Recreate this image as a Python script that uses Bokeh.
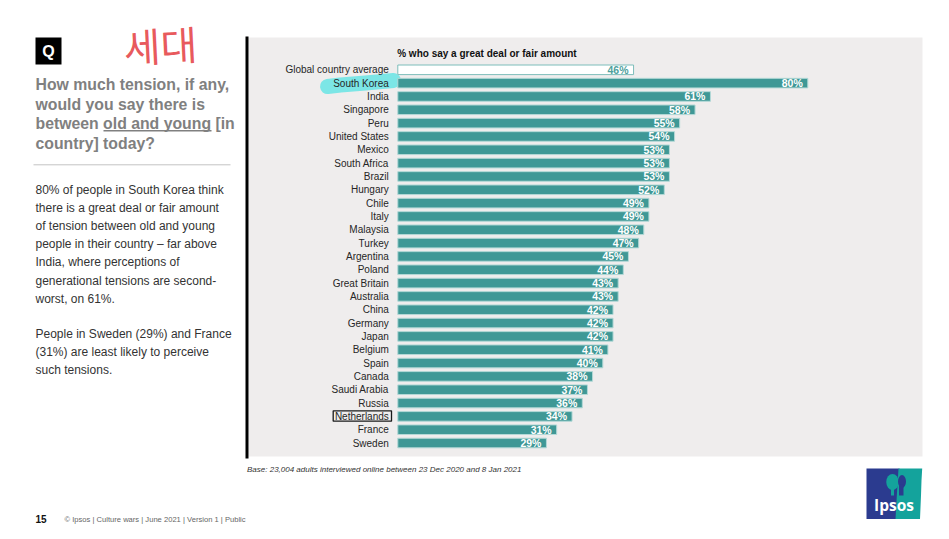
from bokeh.plotting import figure
from bokeh.models import Range1d, ColumnDataSource
from bokeh.core.properties import value
from bokeh.embed import file_html
from bokeh.resources import INLINE

# ---------------- data ----------------
global_label = "Global country average"
global_value = 46
countries = ["South Korea", "India", "Singapore", "Peru", "United States", "Mexico",
             "South Africa", "Brazil", "Hungary", "Chile", "Italy", "Malaysia", "Turkey",
             "Argentina", "Poland", "Great Britain", "Australia", "China", "Germany",
             "Japan", "Belgium", "Spain", "Canada", "Saudi Arabia", "Russia",
             "Netherlands", "France", "Sweden"]
values = [80, 61, 58, 55, 54, 53, 53, 53, 52, 49, 49, 48, 47, 45, 44, 43, 43, 42, 42,
          42, 41, 40, 38, 37, 36, 34, 31, 29]
chart_title = "% who say a great deal or fair amount"
question_lines = ["How much tension, if any,", "would you say there is",
                  "between old and young [in", "country] today?"]
body_lines_1 = ["80% of people in South Korea think", "there is a great deal or fair amount",
                "of tension between old and young", "people in their country \u2013 far above",
                "India, where perceptions of", "generational tensions are second-",
                "worst, on 61%."]
body_lines_2 = ["People in Sweden (29%) and France", "(31%) are least likely to perceive",
                "such tensions."]
base_note = "Base: 23,004 adults interviewed online between 23 Dec 2020 and 8 Jan 2021"
footer = "\u00a9 Ipsos | Culture wars | June 2021 | Version 1 | Public"
page_no = "15"
handwriting = "\uc138\ub300"

# ---------------- layout (page pixel space) ----------------
W, H = 933, 527
X0, Y0 = 0, 0
FONT = value("Liberation Sans")
TEAL = "#3f9896"

p = figure(width=W, height=H, output_backend="svg", toolbar_location=None,
           x_range=Range1d(X0, X0 + W), y_range=Range1d(Y0 + H, Y0),
           min_border=0, outline_line_color=None,
           x_axis_location=None, y_axis_location=None,
           background_fill_color="white", border_fill_color="white")
p.grid.visible = False

# bar chart scales: 0% at px 397.3, 5.125 px per percent; row 0 at px 69.3, 13.33 px per row
PX0, PXPER = 397.3, 5.125
RY0, RYH = 69.3, 13.33
p.extra_x_ranges = {"pct": Range1d((X0 - PX0) / PXPER, (X0 + W - PX0) / PXPER)}
p.extra_y_ranges = {"row": Range1d((Y0 + H - RY0) / RYH, (Y0 - RY0) / RYH)}

# chart panel
p.quad(left=248, right=922, top=37, bottom=456, fill_color="#efeded", line_color=None)
p.segment(x0=[246.5], y0=[36], x1=[246.5], y1=[458], line_color="black", line_width=3)

# highlighter stroke behind South Korea
p.line(x=[327, 340, 365, 393], y=[86, 84.5, 82.5, 80], line_color="#6fe4e4",
       line_width=15, line_cap="round", line_join="round", line_alpha=0.9)

src_g = ColumnDataSource(dict(row=[0], val=[global_value], lbl=[f"{global_value}%"],
                              cat=[global_label]))
rows = list(range(1, len(countries) + 1))
src = ColumnDataSource(dict(row=rows, val=values, lbl=[f"{v}%" for v in values],
                            cat=countries))

p.hbar(y="row", left=0, right="val", height=0.72, source=src_g,
       x_range_name="pct", y_range_name="row",
       fill_color="white", line_color="#7dbdba", line_width=1)
p.hbar(y="row", left=0, right="val", height=0.72, source=src,
       x_range_name="pct", y_range_name="row",
       fill_color=TEAL, line_color="#b3d9d7", line_width=1)

for s, col in ((src_g, "#4f9f9d"), (src, "white")):
    p.text(x="val", y="row", text="lbl", source=s, x_range_name="pct", y_range_name="row",
           x_offset=-5, text_align="right", text_baseline="middle",
           text_font=FONT, text_font_size="10.5px", text_font_style="bold", text_color=col)
    p.text(x=0, y="row", text="cat", source=s, x_range_name="pct", y_range_name="row",
           x_offset=-9, text_align="right", text_baseline="middle",
           text_font=FONT, text_font_size="10px", text_color="#262626")

# Netherlands box
p.quad(left=332.7, right=391, top=410.3, bottom=420.7, fill_color=None,
       line_color="#1a1a1a", line_width=1.3)

p.text(x=[396.7], y=[52.5], text=[chart_title], text_font=FONT, text_font_size="10px",
       text_font_style="bold", text_color="#111111", text_baseline="middle")
p.text(x=[246.5], y=[468.5], text=[base_note], text_font=FONT, text_font_size="8px",
       text_font_style="italic", text_color="#333333", text_baseline="middle")

# left panel
p.quad(left=35, right=61, top=37, bottom=64, fill_color="black", line_color=None)
p.text(x=[48], y=[51], text=["Q"], text_font=FONT, text_font_size="16px",
       text_font_style="bold", text_color="white", text_align="center",
       text_baseline="middle")
p.text(x=[160], y=[44], text=[handwriting], text_font=value("Noto Sans CJK KR"),
       text_font_size="40px", text_color="#e43c40", text_align="center",
       text_baseline="middle", angle=0.05, text_alpha=0.85)

q_mid = [84, 103.5, 123, 142.5]
p.text(x=[35] * 4, y=q_mid, text=question_lines, text_font=FONT, text_font_size="15.8px",
       text_font_style="bold", text_color="#808080", text_baseline="middle")
p.segment(x0=[103], y0=[130.3], x1=[211], y1=[130.3], line_color="#808080", line_width=1.4)
p.segment(x0=[33], y0=[164.3], x1=[230], y1=[164.3], line_color="#c4c4c4", line_width=1)

b1 = [189.5 + 18.1 * k for k in range(len(body_lines_1))]
b2 = [333.7 + 18.1 * k for k in range(len(body_lines_2))]
p.text(x=[35] * (len(b1) + len(b2)), y=b1 + b2, text=body_lines_1 + body_lines_2,
       text_font=FONT, text_font_size="12px", text_color="#333333",
       text_baseline="middle")

# footer
p.text(x=[35], y=[518], text=[page_no], text_font=FONT, text_font_size="10px",
       text_font_style="bold", text_color="#111111", text_baseline="middle")
p.text(x=[64], y=[518.5], text=[footer], text_font=FONT, text_font_size="7.6px",
       text_color="#666666", text_baseline="middle")

# Ipsos logo
p.quad(left=866, right=899, top=468, bottom=518.5, fill_color="#2b3b8f", line_color=None)
p.patch(x=[898, 921.7, 921, 920.5, 919.5, 895, 896.5],
        y=[468, 468, 480, 495, 518.5, 518.5, 492], fill_color="#14a39c", line_color=None)
p.ellipse(x=[892], y=[481.5], width=12.5, height=16, fill_color="#14a39c", line_color=None)
p.quad(left=890.5, right=893.5, top=486, bottom=495, fill_color="#14a39c", line_color=None)
p.ellipse(x=[901.5], y=[481], width=8, height=13, fill_color="#2b3b8f", line_color=None)
p.quad(left=898.5, right=903, top=484, bottom=495, fill_color="#2b3b8f", line_color=None)
p.text(x=[893.5], y=[504], text=["Ipsos"], text_font=value("Open Sans"),
       text_font_size="15.5px", text_font_style="bold", text_color="white",
       text_align="center", text_baseline="middle")

open("out.html", "w").write(file_html(p, INLINE))
